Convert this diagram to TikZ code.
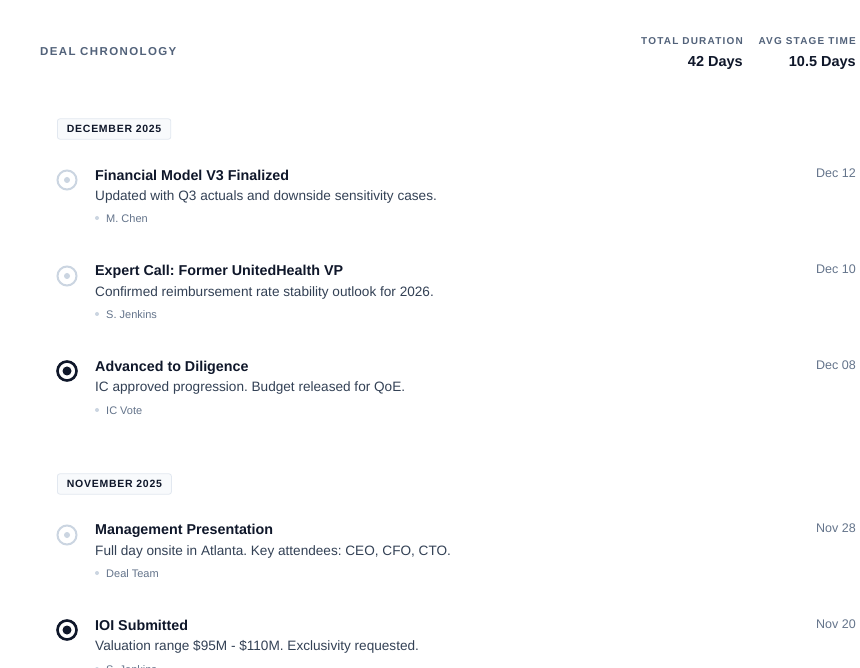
\documentclass[tikz,border=0pt]{standalone}
\usepackage{fontspec}
\setmainfont{Liberation Sans}
\newfontfamily\capsfont[LetterSpace=12]{Liberation Sans}
\newfontfamily\tagfont[LetterSpace=7]{Liberation Sans}
\frenchspacing
\definecolor{ink}{HTML}{0F172A}
\definecolor{bodytext}{HTML}{334155}
\definecolor{mutedtext}{HTML}{64748B}
\definecolor{headtext}{HTML}{52627A}
\definecolor{ringgray}{HTML}{CBD5E1}
\definecolor{tagfill}{HTML}{F8FAFC}
\definecolor{tagline}{HTML}{E2E8F0}
\tikzset{
  headlabel/.style={inner sep=0pt, text=headtext, font=\capsfont\fontsize{10}{12}\selectfont\bfseries},
  headvalue/.style={inner sep=0pt, text=ink, font=\fontsize{14.5}{17}\selectfont\bfseries},
  monthtag/.style={draw=tagline, fill=tagfill, rounded corners=2.5pt, line width=0.8pt, inner xsep=9.5pt, inner ysep=6.5pt, text=ink, font=\tagfont\fontsize{10.5}{12}\selectfont\bfseries},
  eventtitle/.style={inner sep=0pt, anchor=west, text depth=0pt, text=ink, font=\fontsize{14.3}{17}\selectfont\bfseries},
  eventdesc/.style={inner sep=0pt, anchor=west, text=bodytext, font=\fontsize{13.6}{16}\selectfont},
  eventwho/.style={inner sep=0pt, anchor=west, text=mutedtext, font=\fontsize{11}{13}\selectfont},
  eventdate/.style={inner sep=0pt, anchor=east, text=mutedtext, font=\fontsize{12.5}{15}\selectfont},
  whodot/.style={circle, fill=ringgray, inner sep=0pt, minimum size=4pt},
  ringopen/.style={circle, draw=ringgray, line width=2pt, minimum size=19pt, inner sep=0pt},
  ringdone/.style={circle, draw=ink, line width=2.6pt, minimum size=19pt, inner sep=0pt},
  dotopen/.style={circle, fill=ringgray, inner sep=0pt, minimum size=6pt},
  dotdone/.style={circle, fill=ink, inner sep=0pt, minimum size=9pt},
}
\begin{document}
\begin{tikzpicture}[x=1pt, y=-1pt]
  \useasboundingbox[fill=white] (0,0) rectangle (860,668);
  % header
  \node[headlabel, anchor=west, font=\capsfont\fontsize{11.5}{13}\selectfont\bfseries] (chrono) at (40,52) {DEAL CHRONOLOGY};
  \node[headlabel, anchor=east] (durlabel) at (743,41) {TOTAL DURATION};
  \node[headvalue, anchor=east] (durvalue) at (743,63) {42 Days};
  \node[headlabel, anchor=east] (avglabel) at (856,41) {AVG STAGE TIME};
  \node[headvalue, anchor=east] (avgvalue) at (856,63) {10.5 Days};

  % december
  \node[monthtag, anchor=west] (decTag) at (57,129) {DECEMBER 2025};

  \node[ringopen] (modelRing) at (67,180) {};
  \node[dotopen] (modelDot) at (modelRing) {};
  \node[eventtitle] (modelTitle) at (95,175) {Financial Model V3 Finalized};
  \node[eventdesc] (modelDesc) at (95,197) {Updated with Q3 actuals and downside sensitivity cases.};
  \node[whodot] (modelBullet) at (97,218) {};
  \node[eventwho] (modelWho) at (106,219) {M. Chen};
  \node[eventdate] (modelDate) at (856,173) {Dec 12};

  \node[ringopen] (expertRing) at (67,276) {};
  \node[dotopen] (expertDot) at (expertRing) {};
  \node[eventtitle] (expertTitle) at (95,270) {Expert Call: Former UnitedHealth VP};
  \node[eventdesc] (expertDesc) at (95,293) {Confirmed reimbursement rate stability outlook for 2026.};
  \node[whodot] (expertBullet) at (97,314) {};
  \node[eventwho] (expertWho) at (106,315) {S. Jenkins};
  \node[eventdate] (expertDate) at (856,269) {Dec 10};

  \node[ringdone] (diligRing) at (67,371) {};
  \node[dotdone] (diligDot) at (diligRing) {};
  \node[eventtitle] (diligTitle) at (95,366) {Advanced to Diligence};
  \node[eventdesc] (diligDesc) at (95,388) {IC approved progression. Budget released for QoE.};
  \node[whodot] (diligBullet) at (97,410) {};
  \node[eventwho] (diligWho) at (106,411) {IC Vote};
  \node[eventdate] (diligDate) at (856,365) {Dec 08};

  % november
  \node[monthtag, anchor=west] (novTag) at (57,484) {NOVEMBER 2025};

  \node[ringopen] (mgmtRing) at (67,535) {};
  \node[dotopen] (mgmtDot) at (mgmtRing) {};
  \node[eventtitle] (mgmtTitle) at (95,529) {Management Presentation};
  \node[eventdesc] (mgmtDesc) at (95,552) {Full day onsite in Atlanta. Key attendees: CEO, CFO, CTO.};
  \node[whodot] (mgmtBullet) at (97,573) {};
  \node[eventwho] (mgmtWho) at (106,574) {Deal Team};
  \node[eventdate] (mgmtDate) at (856,528) {Nov 28};

  \node[ringdone] (ioiRing) at (67,630) {};
  \node[dotdone] (ioiDot) at (ioiRing) {};
  \node[eventtitle] (ioiTitle) at (95,625) {IOI Submitted};
  \node[eventdesc] (ioiDesc) at (95,647) {Valuation range \$95M - \$110M. Exclusivity requested.};
  \node[whodot] (ioiBullet) at (97,669) {};
  \node[eventwho] (ioiWho) at (106,670) {S. Jenkins};
  \node[eventdate] (ioiDate) at (856,624) {Nov 20};
\end{tikzpicture}
\end{document}
